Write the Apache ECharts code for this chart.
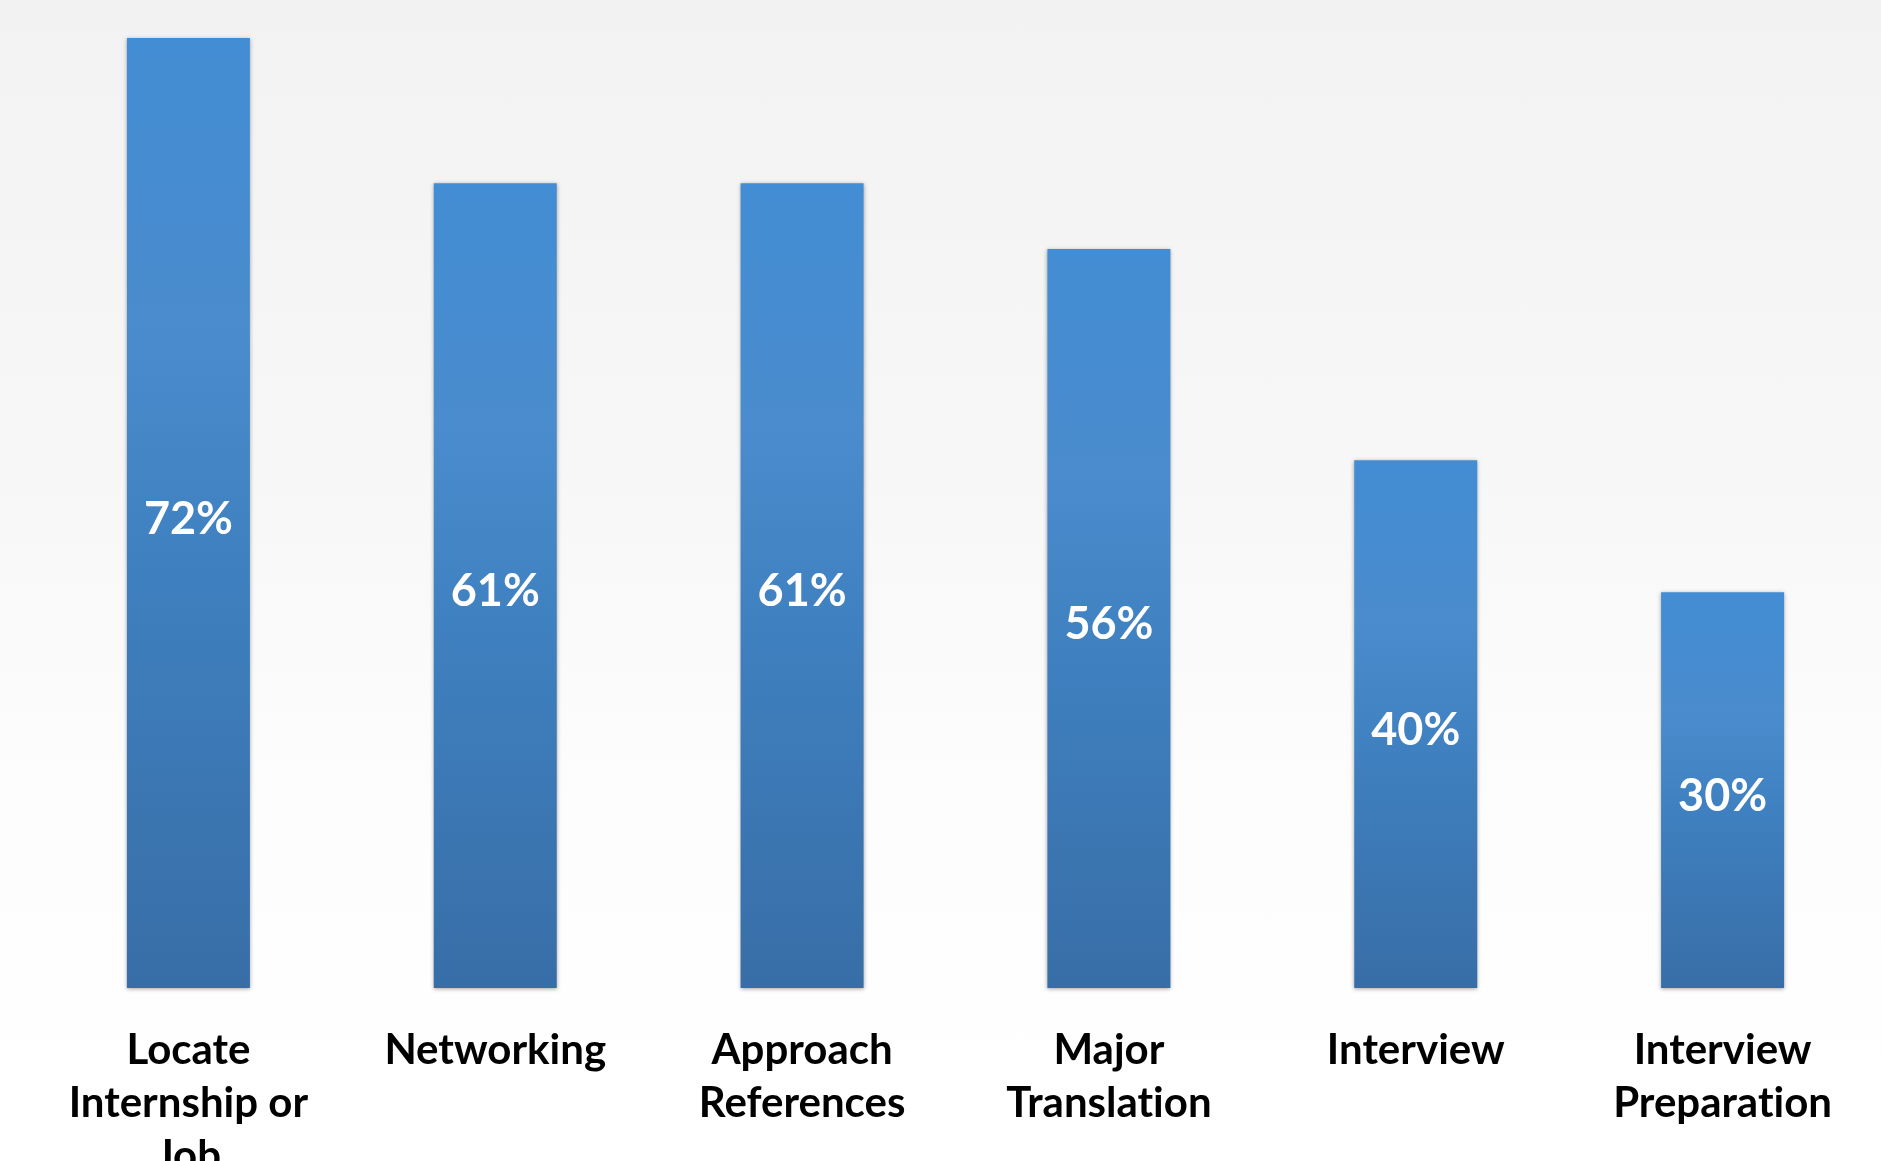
<!DOCTYPE html>
<html>
<head>
<meta charset="utf-8">
<title>Job search skills</title>
<script src="https://cdn.jsdelivr.net/npm/echarts@6/dist/echarts.min.js"></script>
<style>
  html, body { margin: 0; padding: 0; overflow: hidden; }
  body { background: linear-gradient(to bottom, #f2f2f2 0%, #f7f7f7 40%, #fdfdfd 70%, #ffffff 100%); }
  #chart { width: 1881px; height: 1161px; }
</style>
</head>
<body>
<div id="chart"></div>
<script>
// Share of respondents for each job-search topic
// (a zero-width non-joiner keeps "ti" from merging into a ligature)
const categories = [
  'Locate\nInternship or\nJob',
  'Networking',
  'Approach\nReferences',
  'Major\nTranslat\u200Cion',
  'Interview',
  'Interview\nPreparat\u200Cion'
];
const percentValues = [72, 61, 61, 56, 40, 30];

const chart = echarts.init(document.getElementById('chart'), null, { renderer: 'canvas' });

const barFill = new echarts.graphic.LinearGradient(0, 0, 0, 1, [
  { offset: 0, color: '#438dd4' },
  { offset: 0.3, color: '#4a8ccd' },
  { offset: 0.55, color: '#3f80c0' },
  { offset: 1, color: '#386ea7' }
]);

chart.setOption({
  backgroundColor: 'transparent',
  animation: false,
  grid: {
    left: 35, right: 5, top: 38, bottom: 173,
    containLabel: false,
    outerBoundsMode: 'none'
  },
  xAxis: {
    type: 'category',
    data: categories,
    axisLine: { show: false },
    axisTick: { show: false },
    axisLabel: {
      interval: 0,
      margin: 36,
      color: '#000000',
      fontFamily: 'Lato',
      fontWeight: 'bold',
      fontSize: 42,
      lineHeight: 53,
      align: 'center'
    }
  },
  yAxis: {
    type: 'value',
    min: 0,
    max: 72,
    show: false,
    splitLine: { show: false }
  },
  series: [{
    type: 'bar',
    data: percentValues,
    barWidth: 123,
    itemStyle: {
      color: barFill,
      shadowColor: 'rgba(0,0,0,0.35)',
      shadowBlur: 4,
      shadowOffsetX: 0,
      shadowOffsetY: 1
    },
    label: {
      show: true,
      position: 'inside',
      offset: [0, 6],
      formatter: '{c}%',
      color: '#ffffff',
      fontFamily: 'Lato',
      fontWeight: 'bold',
      fontSize: 45
    }
  }]
});
</script>
</body>
</html>
